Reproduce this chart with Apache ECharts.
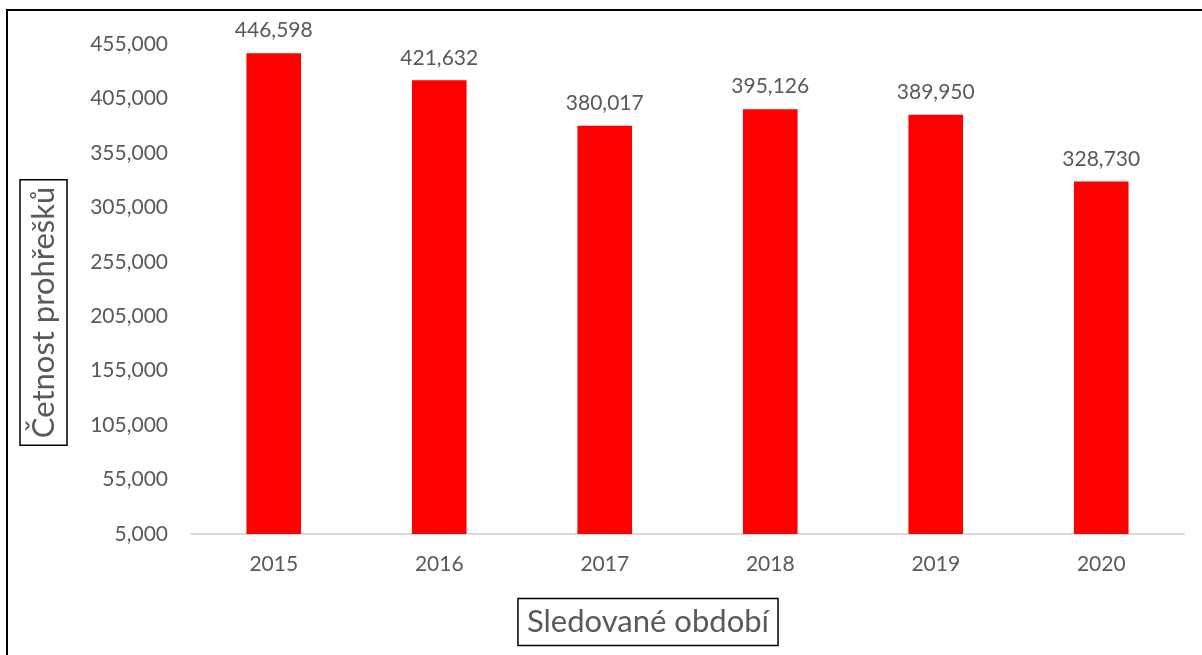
<!DOCTYPE html>
<html>
<head>
<meta charset="utf-8">
<script src="https://cdn.jsdelivr.net/npm/echarts@6/dist/echarts.min.js"></script>
<style>
  html, body { margin: 0; padding: 0; background: #fff; }
  #chart { width: 1202px; height: 655px; }
</style>
</head>
<body>
<div id="chart"></div>
<script>
// roky
const years = ['2015', '2016', '2017', '2018', '2019', '2020']
// četnost prohřešků
const counts = [446598, 421632, 380017, 395126, 389950, 328730]
// osa y
const yMin = 5000
const yMax = 455000
const yStep = 50000

const textColor = '#595959'
const font = 'Lato'

const chart = echarts.init(document.getElementById('chart'))
chart.setOption({
  animation: false,
  backgroundColor: '#fff',
  grid: {
    left: 191,
    right: 18,
    top: 44,
    bottom: 121,
  },
  xAxis: {
    type: 'category',
    data: years,
    axisLine: {
      show: true,
      lineStyle: { color: '#d9d9d9', width: 2 },
    },
    axisTick: { show: false },
    axisLabel: {
      color: textColor,
      fontFamily: font,
      fontSize: 21,
      margin: 20,
    },
  },
  yAxis: {
    type: 'value',
    min: yMin,
    max: yMax,
    interval: yStep,
    splitLine: { show: false },
    axisLine: { show: false },
    axisTick: { show: false },
    axisLabel: {
      color: textColor,
      fontFamily: font,
      fontSize: 21,
      margin: 23,
      formatter: (v) => v.toLocaleString('en-US'),
    },
  },
  series: [
    {
      type: 'bar',
      data: counts,
      barWidth: '33%',
      itemStyle: { color: '#ff0000' },
      label: {
        show: true,
        position: 'top',
        distance: 12,
        color: textColor,
        fontFamily: font,
        fontSize: 21,
        formatter: (p) => p.value.toLocaleString('en-US'),
      },
    },
  ],
  graphic: [
    // vnější rámeček
    {
      type: 'rect',
      shape: { x: 7, y: 10, width: 1400, height: 800 },
      style: { fill: 'none', stroke: '#000', lineWidth: 2 },
      silent: true,
    },
    // název osy y
    {
      type: 'text',
      x: 43.5,
      y: 312.5,
      rotation: Math.PI / 2,
      style: {
        text: 'Četnost prohřešků',
        fontFamily: font,
        fontSize: 31,
        fill: textColor,
        align: 'center',
        verticalAlign: 'middle',
        borderColor: '#000',
        borderWidth: 1.5,
        padding: [9, 7, 7, 7],
      },
    },
    // název osy x
    {
      type: 'text',
      x: 648,
      y: 622,
      style: {
        text: 'Sledované období',
        fontFamily: font,
        fontSize: 31,
        fill: textColor,
        align: 'center',
        verticalAlign: 'middle',
        borderColor: '#000',
        borderWidth: 1.5,
        padding: [9, 9, 7, 9],
      },
    },
  ],
})
</script>
</body>
</html>
